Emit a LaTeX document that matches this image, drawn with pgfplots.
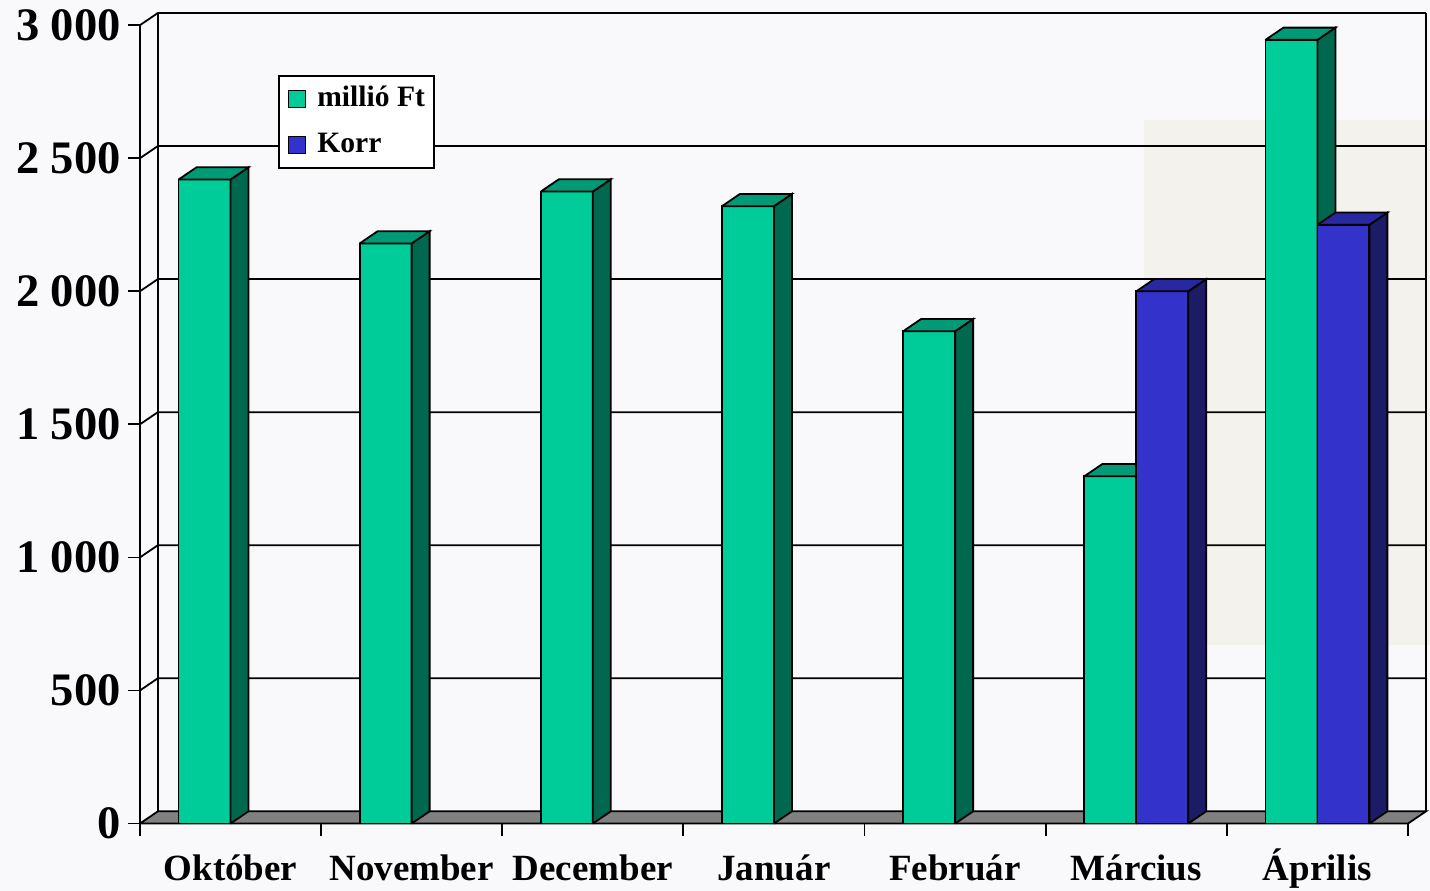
\documentclass[border=0pt]{standalone}
\usepackage{pgfplots}
\pgfplotsset{compat=1.18}
\usepackage{fontspec}
\setmainfont{Liberation Serif}
\definecolor{gfront}{RGB}{0,204,153}
\definecolor{gside}{RGB}{0,104,78}
\definecolor{gtop}{RGB}{0,155,118}
\definecolor{bfront}{RGB}{51,51,204}
\definecolor{bside}{RGB}{28,28,102}
\definecolor{btop}{RGB}{40,40,160}
\definecolor{floorgray}{RGB}{128,128,128}
\definecolor{bgcol}{RGB}{249,249,251}
\definecolor{beige}{RGB}{244,242,236}
\def\bw{0.2868}
\def\ddx{0.0993}
\def\ddy{46}
% data: category index / value
\def\greendata{0/2420,1/2180,2/2375,3/2320,4/1850,5/1305,6/2945}
\def\bluedata{5/2000,6/2250}
\begin{document}
\begin{tikzpicture}
\path[use as bounding box, fill=bgcol] (-70pt,-33.5pt) rectangle (645.55pt,412.1pt);
\fill[beige] (502.5pt,89.5pt) rectangle (645.55pt,352pt);
\begin{axis}[
  at={(0pt,0pt)}, anchor=south west,
  scale only axis,
  x=90.65pt, y=0.133165pt,
  xmin=-0.5, xmax=6.5993, ymin=0, ymax=3046,
  clip=false,
  axis line style={draw=none},
  tick pos=left,
  tick align=outside,
  xtick={0,...,6},
  xticklabels={Október,November,December,Január,Február,Március,Április},
  minor xtick={-0.5,0.5,...,6.5},
  major x tick style={draw=none},
  minor x tick style={black,line width=0.9pt},
  ytick={0,500,...,3000},
  yticklabels={0,500,1 000,1 500,2 000,2 500,3 000},
  major y tick style={black,line width=0.9pt},
  major tick length=6pt,
  minor tick length=6pt,
  xticklabel style={font=\fontsize{18.5}{20}\selectfont\bfseries, text height=16.5pt, text depth=0pt, yshift=-2.5pt},
  yticklabel style={font=\fontsize{23.3}{24}\selectfont\bfseries},
  legend style={at={(rel axis cs:0.1073,0.9236)}, anchor=north west,
    draw=black, line width=0.9pt, fill=white,
    font=\fontsize{14.8}{16}\selectfont\bfseries,
    nodes={inner sep=0pt, text height=10.5pt, text depth=3pt},
    cells={anchor=west}, row sep=9.5pt, column sep=5.5pt,
    inner xsep=4.5pt, inner ysep=4.8pt},
  legend image code/.code={\draw[#1,draw=black,line width=0.8pt] (0pt,-4.25pt) rectangle (8.5pt,4.25pt);},
]
% floor
\addplot[forget plot, fill=floorgray, draw=black, line width=0.9pt]
  coordinates {(-0.5,0) (6.5,0) (6.5993,46) (-0.4007,46) (-0.5,0)};
% walls
\foreach \v in {500,1000,1500,2000,2500,3000} {
  \pgfmathsetmacro\vv{\v+\ddy}
  \edef\tmp{\noexpand\addplot[forget plot, black, line width=0.9pt]
    coordinates {(-0.5,\v) (-0.4007,\vv) (6.5993,\vv)};}
  \tmp
}
\addplot[forget plot, black, line width=0.9pt] coordinates {(-0.4007,46) (-0.4007,3046)};
\addplot[forget plot, black, line width=0.9pt] coordinates {(6.5993,46) (6.5993,3046)};
\addplot[forget plot, black, line width=0.9pt] coordinates {(-0.5,0) (-0.5,3000)};
% green bars
\foreach \c/\v in \greendata {
  \pgfmathsetmacro\xa{\c-\bw}
  \pgfmathsetmacro\xb{\c+\ddx}
  \pgfmathsetmacro\xc{\c-\bw+\ddx}
  \pgfmathsetmacro\vt{\v+\ddy}
  \edef\tmp{%
    \noexpand\addplot[forget plot, fill=gfront, draw=black, line width=0.9pt]
      coordinates {(\xa,0) (\c,0) (\c,\v) (\xa,\v) (\xa,0)};
    \noexpand\addplot[forget plot, fill=gside, draw=black, line width=0.9pt]
      coordinates {(\c,0) (\xb,\ddy) (\xb,\vt) (\c,\v) (\c,0)};
    \noexpand\addplot[forget plot, fill=gtop, draw=black, line width=0.9pt]
      coordinates {(\xa,\v) (\c,\v) (\xb,\vt) (\xc,\vt) (\xa,\v)};
  }
  \tmp
}
% blue bars
\foreach \c/\v in \bluedata {
  \pgfmathsetmacro\xa{\c+\bw}
  \pgfmathsetmacro\xb{\c+\bw+\ddx}
  \pgfmathsetmacro\xc{\c+\ddx}
  \pgfmathsetmacro\vt{\v+\ddy}
  \edef\tmp{%
    \noexpand\addplot[forget plot, fill=bfront, draw=black, line width=0.9pt]
      coordinates {(\c,0) (\xa,0) (\xa,\v) (\c,\v) (\c,0)};
    \noexpand\addplot[forget plot, fill=bside, draw=black, line width=0.9pt]
      coordinates {(\xa,0) (\xb,\ddy) (\xb,\vt) (\xa,\v) (\xa,0)};
    \noexpand\addplot[forget plot, fill=btop, draw=black, line width=0.9pt]
      coordinates {(\c,\v) (\xa,\v) (\xb,\vt) (\xc,\vt) (\c,\v)};
  }
  \tmp
}
\addlegendimage{fill=gfront}
\addlegendentry{millió Ft}
\addlegendimage{fill=bfront}
\addlegendentry{Korr}
\end{axis}
\end{tikzpicture}
\end{document}
